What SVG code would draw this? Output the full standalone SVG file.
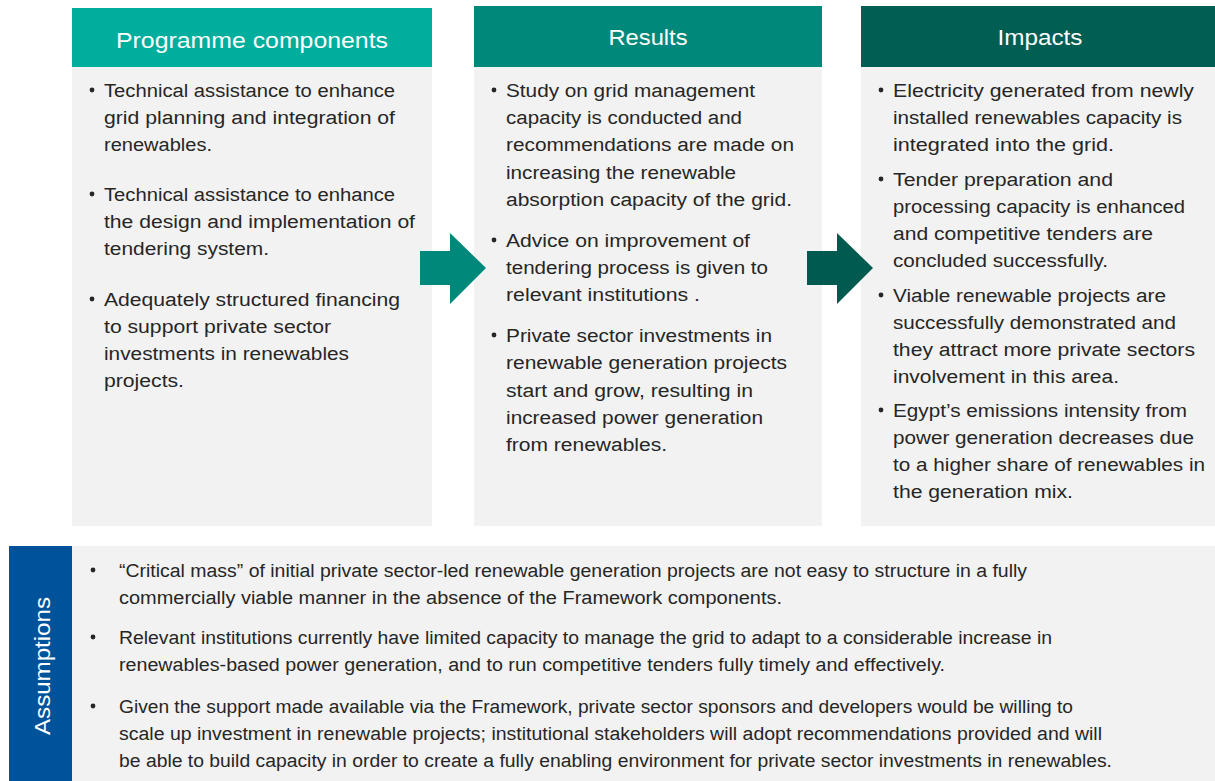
<svg xmlns="http://www.w3.org/2000/svg" width="1215" height="781" viewBox="0 0 1215 781">
  <style>
    .panel { fill: #F2F2F2; }
    .head { fill: #FFFFFF; font-family: "Liberation Sans", Arial, sans-serif; font-size: 22px; text-anchor: middle; }
    .body { fill: #262626; font-family: "Liberation Sans", Arial, sans-serif; font-size: 18px; white-space: pre; }
    .dot { fill: #262626; }
  </style>
  <defs>
    <path id="arrow" d="M0,18 H30 V0 L66,35 L30,71 V52 H0 Z"/>
  </defs>
  <rect width="1215" height="781" fill="#FFFFFF"/>

  <!-- Programme components -->
  <g id="programme-components">
    <rect class="panel" x="72" y="67" width="360" height="459"/>
    <rect x="72" y="8" width="360" height="59" fill="#00AE9D"/>
    <text class="head" x="252" y="48" textLength="272" lengthAdjust="spacingAndGlyphs">Programme components</text>
    <g class="dot"><circle cx="92" cy="90" r="2.4"/><circle cx="92" cy="194" r="2.4"/><circle cx="92" cy="299" r="2.4"/></g>
    <g class="body">
      <text x="104" y="97" textLength="291" lengthAdjust="spacingAndGlyphs">Technical assistance to enhance</text>
      <text x="104" y="124" textLength="291" lengthAdjust="spacingAndGlyphs">grid planning and integration of</text>
      <text x="104" y="151" textLength="108" lengthAdjust="spacingAndGlyphs">renewables.</text>
      <text x="104" y="201" textLength="291" lengthAdjust="spacingAndGlyphs">Technical assistance to enhance</text>
      <text x="104" y="228" textLength="311" lengthAdjust="spacingAndGlyphs">the design and implementation of</text>
      <text x="104" y="255" textLength="165" lengthAdjust="spacingAndGlyphs">tendering system.</text>
      <text x="104" y="306" textLength="296" lengthAdjust="spacingAndGlyphs">Adequately structured financing</text>
      <text x="104" y="333" textLength="227" lengthAdjust="spacingAndGlyphs">to support private sector</text>
      <text x="104" y="360" textLength="245" lengthAdjust="spacingAndGlyphs">investments in renewables</text>
      <text x="104" y="387" textLength="80" lengthAdjust="spacingAndGlyphs">projects.</text>
    </g>
  </g>

  <!-- Results -->
  <g id="results">
    <rect class="panel" x="474" y="67" width="348" height="459"/>
    <rect x="474" y="6" width="348" height="61" fill="#00897B"/>
    <text class="head" x="648" y="45" textLength="79" lengthAdjust="spacingAndGlyphs">Results</text>
    <g class="dot"><circle cx="494" cy="90" r="2.4"/><circle cx="494" cy="240" r="2.4"/><circle cx="494" cy="335" r="2.4"/></g>
    <g class="body">
      <text x="506" y="97" textLength="249" lengthAdjust="spacingAndGlyphs">Study on grid management</text>
      <text x="506" y="124" textLength="236" lengthAdjust="spacingAndGlyphs">capacity is conducted and</text>
      <text x="506" y="151" textLength="288" lengthAdjust="spacingAndGlyphs">recommendations are made on</text>
      <text x="506" y="179" textLength="230" lengthAdjust="spacingAndGlyphs">increasing the renewable</text>
      <text x="506" y="206" textLength="286" lengthAdjust="spacingAndGlyphs">absorption capacity of the grid.</text>
      <text x="506" y="247" textLength="244" lengthAdjust="spacingAndGlyphs">Advice on improvement of</text>
      <text x="506" y="274" textLength="262" lengthAdjust="spacingAndGlyphs">tendering process is given to</text>
      <text x="506" y="301" textLength="194" lengthAdjust="spacingAndGlyphs">relevant institutions .</text>
      <text x="506" y="342" textLength="266" lengthAdjust="spacingAndGlyphs">Private sector investments in</text>
      <text x="506" y="369" textLength="281" lengthAdjust="spacingAndGlyphs">renewable generation projects</text>
      <text x="506" y="397" textLength="247" lengthAdjust="spacingAndGlyphs">start and grow, resulting in</text>
      <text x="506" y="424" textLength="257" lengthAdjust="spacingAndGlyphs">increased power generation</text>
      <text x="506" y="451" textLength="161" lengthAdjust="spacingAndGlyphs">from renewables.</text>
    </g>
  </g>

  <!-- Impacts -->
  <g id="impacts">
    <rect class="panel" x="861" y="67" width="354" height="459"/>
    <rect x="861" y="6" width="354" height="61" fill="#005E52"/>
    <text class="head" x="1040" y="45" textLength="85" lengthAdjust="spacingAndGlyphs">Impacts</text>
    <g class="dot"><circle cx="881" cy="90" r="2.4"/><circle cx="881" cy="179" r="2.4"/><circle cx="881" cy="295" r="2.4"/><circle cx="881" cy="410" r="2.4"/></g>
    <g class="body">
      <text x="893" y="97" textLength="301" lengthAdjust="spacingAndGlyphs">Electricity generated from newly</text>
      <text x="893" y="124" textLength="289" lengthAdjust="spacingAndGlyphs">installed renewables capacity is</text>
      <text x="893" y="151" textLength="221" lengthAdjust="spacingAndGlyphs">integrated into the grid.</text>
      <text x="893" y="186" textLength="220" lengthAdjust="spacingAndGlyphs">Tender preparation and</text>
      <text x="893" y="213" textLength="292" lengthAdjust="spacingAndGlyphs">processing capacity is enhanced</text>
      <text x="893" y="240" textLength="260" lengthAdjust="spacingAndGlyphs">and competitive tenders are</text>
      <text x="893" y="267" textLength="215" lengthAdjust="spacingAndGlyphs">concluded successfully.</text>
      <text x="893" y="302" textLength="273" lengthAdjust="spacingAndGlyphs">Viable renewable projects are</text>
      <text x="893" y="329" textLength="283" lengthAdjust="spacingAndGlyphs">successfully demonstrated and</text>
      <text x="893" y="356" textLength="302" lengthAdjust="spacingAndGlyphs">they attract more private sectors</text>
      <text x="893" y="383" textLength="226" lengthAdjust="spacingAndGlyphs">involvement in this area.</text>
      <text x="893" y="417" textLength="294" lengthAdjust="spacingAndGlyphs">Egypt’s emissions intensity from</text>
      <text x="893" y="444" textLength="301" lengthAdjust="spacingAndGlyphs">power generation decreases due</text>
      <text x="893" y="471" textLength="312" lengthAdjust="spacingAndGlyphs">to a higher share of renewables in</text>
      <text x="893" y="498" textLength="180" lengthAdjust="spacingAndGlyphs">the generation mix.</text>
    </g>
  </g>

  <!-- Flow arrows between the columns -->
  <g id="connectors">
    <use href="#arrow" x="420" y="233" fill="#00897B"/>
    <use href="#arrow" x="807" y="233" fill="#005A4F"/>
  </g>

  <!-- Assumptions band -->
  <g id="assumptions">
    <rect class="panel" x="72" y="546" width="1143" height="235"/>
    <rect x="9" y="546" width="63" height="235" fill="#00539B"/>
    <text class="head" transform="translate(50,666) rotate(-90)" font-size="24" textLength="138" lengthAdjust="spacingAndGlyphs">Assumptions</text>
    <g class="dot"><circle cx="93" cy="570" r="2.4"/><circle cx="93" cy="637" r="2.4"/><circle cx="93" cy="706" r="2.4"/></g>
    <g class="body">
      <text x="119" y="577" textLength="908" lengthAdjust="spacingAndGlyphs">“Critical mass” of initial private sector-led renewable generation projects are not easy to structure in a fully</text>
      <text x="119" y="604" textLength="663" lengthAdjust="spacingAndGlyphs">commercially viable manner in the absence of the Framework components.</text>
      <text x="119" y="644" textLength="933" lengthAdjust="spacingAndGlyphs">Relevant institutions currently have limited capacity to manage the grid to adapt to a considerable  increase in</text>
      <text x="119" y="671" textLength="826" lengthAdjust="spacingAndGlyphs">renewables-based power generation, and to run competitive tenders fully timely and effectively.</text>
      <text x="119" y="713" textLength="954" lengthAdjust="spacingAndGlyphs">Given the support made available via the Framework, private sector sponsors and developers would be willing to</text>
      <text x="119" y="740" textLength="983" lengthAdjust="spacingAndGlyphs">scale up investment in renewable projects; institutional stakeholders  will adopt recommendations provided and will</text>
      <text x="119" y="767" textLength="993" lengthAdjust="spacingAndGlyphs">be able to build capacity  in order to create a fully enabling environment for private sector investments in renewables.</text>
    </g>
  </g>
</svg>
